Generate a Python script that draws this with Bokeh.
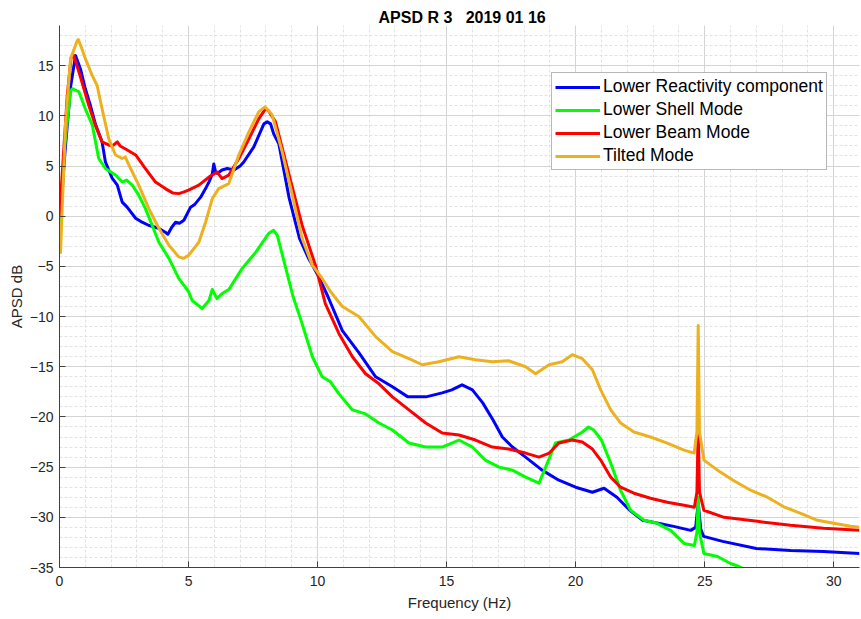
from bokeh.plotting import figure
from bokeh.models import SingleIntervalTicker, Range1d
from bokeh.embed import file_html
from bokeh.resources import INLINE

# ---------------- data ----------------
reac_x = [0, 0.2, 0.43, 0.62, 0.81, 1.0, 1.2, 1.4, 1.65, 1.78, 2.04, 2.24, 2.43, 2.62, 2.95,
          3.2, 3.45, 3.84, 4.1, 4.2, 4.35, 4.5, 4.65, 4.82, 5.08, 5.25, 5.47, 5.65, 5.79,
          5.92, 5.98, 6.05, 6.11, 6.3, 6.5, 6.76, 7.0, 7.14, 7.53, 7.92, 8.05, 8.18, 8.3,
          8.5, 8.9, 9.3, 9.65, 10.0, 10.4, 10.96, 11.6, 12.25, 12.9, 13.5, 14.2, 14.83,
          15.2, 15.6, 16.0, 16.4, 16.8, 17.16, 17.55, 18.06, 18.7, 19.35, 20.0, 20.65,
          21.1, 21.6, 22.1, 22.6, 23.2, 23.8, 24.46, 24.65, 24.75, 24.85, 24.96, 25.7,
          27.0, 28.33, 29.6, 31.0]
reac_y = [-1.5, 6.0, 12.9, 16.0, 14.7, 12.7, 11.0, 9.1, 7.4, 5.4, 3.8, 3.1, 1.4, 0.9, -0.2,
          -0.6, -0.9, -1.2, -1.6, -1.8, -1.1, -0.6, -0.7, -0.4, 0.9, 1.2, 1.9, 2.7, 3.4,
          4.2, 5.2, 4.4, 4.25, 4.6, 4.75, 4.6, 5.0, 5.4, 6.9, 9.2, 9.4, 9.2, 8.2,
          7.2, 1.8, -2.2, -4.2, -5.8, -8.0, -11.4, -13.6, -16.0, -17.0, -18.0, -18.0, -17.6,
          -17.3, -16.8, -17.3, -18.6, -20.3, -22.0, -23.0, -24.0, -25.3, -26.3, -27.0, -27.5,
          -27.1, -28.0, -29.3, -30.3, -30.6, -30.9, -31.3, -31.0, -28.6, -31.2, -31.9, -32.4,
          -33.1, -33.3, -33.4, -33.6]

shell_x = [0, 0.2, 0.43, 0.5, 0.75, 1.0, 1.27, 1.52, 1.78, 2.17, 2.43, 2.6, 2.82, 3.07, 3.33,
           3.59, 3.85, 4.24, 4.62, 5.0, 5.14, 5.53, 5.79, 5.92, 6.1, 6.3, 6.56, 7.08, 7.6,
           8.11, 8.3, 8.44, 8.9, 9.05, 9.4, 9.8, 10.18, 10.5, 10.83, 11.35, 11.86, 12.38,
           12.9, 13.54, 14.19, 14.83, 15.48, 16.0, 16.5, 17.03, 17.55, 18.06, 18.58, 18.84,
           19.22, 19.74, 20.26, 20.5, 20.7, 21.0, 21.36, 21.74, 22.13, 22.65, 23.16, 23.68,
           24.2, 24.6, 24.7, 24.75, 24.8, 24.97, 25.5, 26.0, 26.33, 27.0, 31.0]
shell_y = [-1.0, 7.0, 12.5, 12.7, 12.4, 10.7, 9.1, 5.75, 4.75, 4.1, 3.4, 3.6, 3.1, 2.1, 0.75,
           -0.9, -2.6, -4.2, -6.2, -7.5, -8.4, -9.2, -8.4, -7.3, -8.2, -7.7, -7.3, -5.2, -3.6,
           -1.7, -1.4, -1.9, -6.5, -8.0, -10.7, -14.0, -16.0, -16.5, -17.7, -19.3, -19.7, -20.6,
           -21.3, -22.6, -23.0, -23.0, -22.3, -23.0, -24.3, -25.0, -25.3, -26.0, -26.6, -25.0,
           -22.6, -22.3, -21.5, -21.0, -21.3, -22.3, -24.6, -27.3, -29.3, -30.3, -30.6, -31.3,
           -32.6, -32.8, -31.5, -28.0, -31.5, -33.6, -33.9, -34.6, -34.9, -35.8, -38.5]

beam_x = [0, 0.15, 0.3, 0.45, 0.55, 0.75, 1.14, 1.4, 1.65, 1.9, 2.05, 2.24, 2.35, 2.56, 2.95,
          3.33, 3.72, 4.1, 4.4, 4.62, 4.8, 5.0, 5.4, 5.79, 6.11, 6.3, 6.56, 6.95, 7.34, 7.72,
          7.98, 8.1, 8.37, 8.9, 9.4, 9.92, 10.3, 10.83, 11.35, 11.86, 12.38, 12.9, 13.54,
          14.19, 14.83, 15.48, 16.12, 16.77, 17.4, 18.06, 18.58, 18.98, 19.35, 19.87, 20.26,
          20.65, 20.97, 21.36, 21.74, 22.26, 22.9, 23.55, 24.2, 24.6, 24.7, 24.75, 24.8,
          24.97, 25.75, 27.04, 28.33, 29.6, 31.0]
beam_y = [0.0, 6.0, 12.0, 15.8, 16.0, 14.4, 11.0, 9.0, 7.4, 7.1, 7.0, 7.4, 7.0, 6.7, 6.1,
          4.75, 3.4, 2.75, 2.3, 2.25, 2.4, 2.6, 3.1, 3.9, 4.4, 3.75, 4.1, 5.75, 7.7, 9.7,
          10.7, 10.5, 9.4, 4.1, -0.9, -4.9, -8.7, -11.7, -14.0, -15.7, -16.7, -18.0, -19.3,
          -20.6, -21.6, -21.8, -22.3, -23.0, -23.2, -23.6, -24.0, -23.6, -22.6, -22.3, -22.5,
          -23.2, -24.3, -26.0, -27.0, -27.6, -28.1, -28.5, -28.8, -29.0, -27.5, -21.0, -27.5,
          -29.3, -30.0, -30.4, -30.8, -31.1, -31.3]

tilt_x = [0, 0.04, 0.1, 0.23, 0.43, 0.69, 0.73, 0.85, 1.0, 1.27, 1.46, 1.65, 1.91, 2.17, 2.43,
          2.55, 2.69, 3.07, 3.46, 3.85, 4.24, 4.62, 4.8, 5.0, 5.4, 5.66, 5.92, 6.17, 6.56,
          6.95, 7.34, 7.72, 7.96, 8.24, 8.63, 9.02, 9.4, 9.8, 10.18, 10.5, 10.96, 11.6,
          12.25, 12.9, 13.54, 14.06, 14.7, 15.48, 16.12, 16.77, 17.4, 18.06, 18.45, 18.97,
          19.48, 19.87, 20.26, 20.65, 20.97, 21.36, 21.74, 22.26, 22.9, 23.55, 24.2, 24.59,
          24.7, 24.75, 24.8, 24.97, 25.5, 26.1, 26.78, 27.43, 28.07, 28.72, 29.37, 30.0,
          30.66, 31.0]
tilt_y = [-3.5, -3.6, 0.4, 9.1, 15.7, 17.5, 17.6, 16.8, 15.7, 14.0, 13.0, 10.7, 7.7, 6.1, 5.75,
          5.9, 5.1, 3.1, 0.75, -1.2, -2.9, -4.05, -4.2, -3.9, -2.6, -0.6, 1.75, 2.75, 3.25,
          6.1, 8.4, 10.4, 10.9, 10.1, 6.4, 2.1, -2.2, -4.9, -6.2, -7.5, -9.0, -10.0,
          -12.0, -13.5, -14.2, -14.8, -14.5, -14.0, -14.3, -14.5, -14.4, -15.0, -15.7, -14.8,
          -14.5, -13.8, -14.2, -15.3, -17.3, -19.3, -20.6, -21.5, -22.0, -22.6, -23.3, -23.6,
          -21.5, -10.9, -21.5, -24.3, -25.3, -26.3, -27.3, -28.0, -28.95, -29.6, -30.3, -30.6,
          -30.9, -31.0]

series_names = ["Lower Reactivity component", "Lower Shell Mode", "Lower Beam Mode", "Tilted Mode"]
series_colors = ["#0000FF", "#00FF00", "#FF0000", "#EDB120"]

title_text = "APSD R 3\u00a0\u00a0 2019 01 16"
x_label = "Frequency (Hz)"
y_label = "APSD dB"

FONT = "Liberation Sans"
TXT = "#262626"

p = figure(width=861, height=619, output_backend="svg", toolbar_location=None,
           x_range=Range1d(0, 31), y_range=Range1d(-35, 19),
           title=title_text,
           min_border_left=59, min_border_right=2, min_border_top=25, min_border_bottom=52)

p.title.align = "left"
p.title.offset = 319
p.title.text_font = FONT
p.title.text_font_size = "16px"
p.title.text_font_style = "bold"
p.title.text_color = "#000000"
p.title.standoff = 0

p.outline_line_color = None
p.background_fill_color = "white"
p.border_fill_color = "white"

for ax in (p.xaxis[0], p.yaxis[0]):
    ax.ticker = SingleIntervalTicker(interval=5, num_minor_ticks=5)
    ax.axis_line_color = "#404040"
    ax.axis_line_width = 1
    ax.major_tick_in = 6
    ax.major_tick_out = 0
    ax.minor_tick_in = 0
    ax.minor_tick_out = 0
    ax.major_tick_line_color = "#404040"
    ax.major_label_text_font = FONT
    ax.major_label_text_font_size = "14px"
    ax.major_label_text_color = TXT
    ax.axis_label_text_font = FONT
    ax.axis_label_text_font_size = "15px"
    ax.axis_label_text_font_style = "normal"
    ax.axis_label_text_color = TXT

p.xaxis.axis_label = x_label
p.yaxis.axis_label = y_label
p.xaxis.major_label_standoff = 8
p.xaxis.axis_label_standoff = 5
p.yaxis.major_label_standoff = 6
p.yaxis.axis_label_standoff = 2

for g in (p.xgrid[0], p.ygrid[0]):
    g.grid_line_color = "#d4d4d4"
    g.grid_line_width = 1
    g.minor_grid_line_color = "#e2e2e2"
    g.minor_grid_line_dash = "3 2"
    g.minor_grid_line_width = 1

xs = [reac_x, shell_x, beam_x, tilt_x]
ys = [reac_y, shell_y, beam_y, tilt_y]
for x, y, name, col in zip(xs, ys, series_names, series_colors):
    p.line(x, y, line_color=col, line_width=3, line_join="round", legend_label=name)

lg = p.legend[0]
lg.location = (492, 397)
lg.border_line_color = "#707070"
lg.border_line_width = 1
lg.background_fill_color = "white"
lg.background_fill_alpha = 1
lg.label_text_font = FONT
lg.label_text_font_size = "17.5px"
lg.label_text_color = "#000000"
lg.glyph_width = 45
lg.glyph_height = 20
lg.label_height = 20
lg.spacing = 2
lg.padding = 3
lg.margin = 0
lg.label_standoff = 3

open("out.html", "w").write(file_html(p, INLINE))
